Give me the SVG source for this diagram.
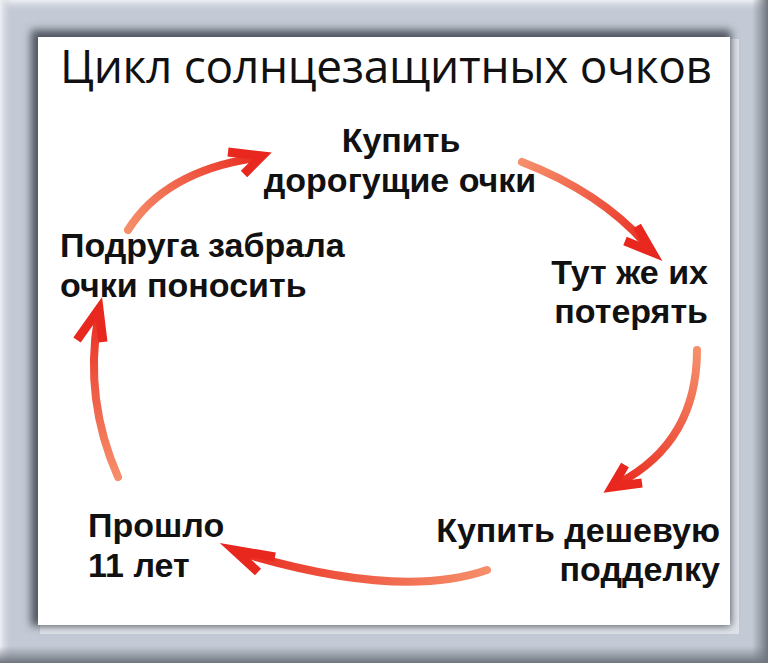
<svg xmlns="http://www.w3.org/2000/svg" width="769" height="665" viewBox="0 0 769 665">
<style>
.node{font-family:"Liberation Sans",Arial,sans-serif;font-weight:700;font-size:34px;fill:#111}
.title{font-family:"Open Sans","Noto Sans","DejaVu Sans",sans-serif;font-weight:400;font-size:46px;fill:#111}
.shaft{fill:none;stroke-width:8;stroke-linecap:round}
.head{fill:none;stroke:#e8281e;stroke-width:9;stroke-linejoin:miter;stroke-linecap:butt}
</style>
<defs>
<linearGradient id="gTop" x1="0" y1="0" x2="0" y2="1"><stop offset="0" stop-color="#eef0f4"/><stop offset="1" stop-color="#c4cad5" stop-opacity="0"/></linearGradient>
<linearGradient id="gLeft" x1="0" y1="0" x2="1" y2="0"><stop offset="0" stop-color="#eef0f4"/><stop offset="1" stop-color="#c4cad5" stop-opacity="0"/></linearGradient>
<linearGradient id="gBot" x1="0" y1="0" x2="0" y2="1"><stop offset="0" stop-color="#7a8089" stop-opacity="0"/><stop offset="1" stop-color="#6f757e"/></linearGradient>
<linearGradient id="gRight" x1="0" y1="0" x2="1" y2="0"><stop offset="0" stop-color="#7a8089" stop-opacity="0"/><stop offset="1" stop-color="#6f757e"/></linearGradient>
<filter id="blur" x="-5%" y="-5%" width="110%" height="110%"><feGaussianBlur stdDeviation="4"/></filter>
<linearGradient id="a1" gradientUnits="userSpaceOnUse" x1="128" y1="230" x2="262" y2="156"><stop offset="0" stop-color="#f47a50" stop-opacity="0.85"/><stop offset="1" stop-color="#e8281e"/></linearGradient>
<linearGradient id="a2" gradientUnits="userSpaceOnUse" x1="522" y1="162" x2="652" y2="252"><stop offset="0" stop-color="#f47a50" stop-opacity="0.85"/><stop offset="1" stop-color="#e8281e"/></linearGradient>
<linearGradient id="a3" gradientUnits="userSpaceOnUse" x1="697" y1="350" x2="612" y2="487"><stop offset="0" stop-color="#f47a50" stop-opacity="0.85"/><stop offset="1" stop-color="#e8281e"/></linearGradient>
<linearGradient id="a4" gradientUnits="userSpaceOnUse" x1="487" y1="570" x2="233" y2="550"><stop offset="0" stop-color="#f47a50" stop-opacity="0.85"/><stop offset="1" stop-color="#e8281e"/></linearGradient>
<linearGradient id="a5" gradientUnits="userSpaceOnUse" x1="118" y1="477" x2="99" y2="308"><stop offset="0" stop-color="#f47a50" stop-opacity="0.85"/><stop offset="1" stop-color="#e8281e"/></linearGradient>
</defs>
<rect x="0" y="0" width="769" height="665" fill="#ffffff"/>
<g id="frame">
<rect x="0" y="0" width="768" height="663" fill="#c4cad5"/>
<rect x="0" y="0" width="768" height="12" fill="url(#gTop)"/>
<rect x="0" y="0" width="12" height="663" fill="url(#gLeft)"/>
<rect x="0" y="646" width="768" height="17" fill="url(#gBot)"/>
<rect x="752" y="0" width="16" height="663" fill="url(#gRight)"/>
<rect x="40" y="39" width="699" height="595" fill="#e0e4ea"/>
<rect x="31" y="30" width="700" height="596" fill="#4f555e" filter="url(#blur)"/>
<rect x="38" y="37" width="692" height="588" fill="#ffffff"/>
</g>
<text class="title" x="60" y="83" textLength="652" lengthAdjust="spacing">Цикл солнцезащитных очков</text>
<g id="connectors">
<path class="shaft" stroke="url(#a1)" d="M128,230 C150,195 190,168 254,158"/>
<polyline class="head" points="228,152 262,156 244,174"/>
<path class="shaft" stroke="url(#a2)" d="M522,162 Q600,192 646,244"/>
<polyline class="head" points="637,226 652,252 625,241"/>
<path class="shaft" stroke="url(#a3)" d="M697,350 C697,410 672,455 619,483"/>
<polyline class="head" points="625,465 612,487 642,483"/>
<path class="shaft" stroke="url(#a4)" d="M487,570 Q400,600 242,553"/>
<polyline class="head" points="275,557 234,550 258,572"/>
<path class="shaft" stroke="url(#a5)" d="M118,477 Q84,400 98,318"/>
<polyline class="head" points="77,340 99,309 103,342"/>
</g>
<g id="node-buy-expensive">
<text class="node" x="401" y="152" text-anchor="middle">Купить</text>
<text class="node" x="400" y="192" text-anchor="middle">дорогущие очки</text>
</g>
<g id="node-lose">
<text class="node" x="708" y="284" text-anchor="end">Тут же их</text>
<text class="node" x="708" y="323" text-anchor="end">потерять</text>
</g>
<g id="node-buy-fake">
<text class="node" x="720" y="542" text-anchor="end">Купить дешевую</text>
<text class="node" x="720" y="581" text-anchor="end">подделку</text>
</g>
<g id="node-years">
<text class="node" x="88" y="537">Прошло</text>
<text class="node" x="88" y="577">11 лет</text>
</g>
<g id="node-friend">
<text class="node" x="60" y="257">Подруга забрала</text>
<text class="node" x="60" y="297">очки поносить</text>
</g>
</svg>
